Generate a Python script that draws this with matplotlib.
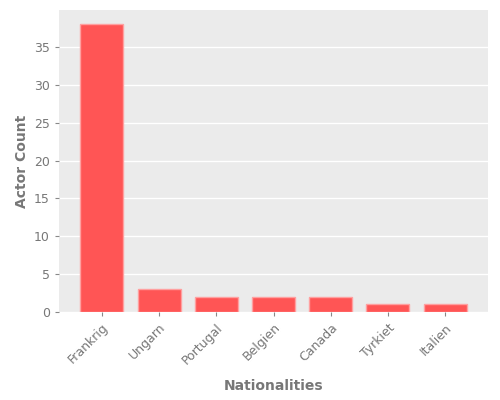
import matplotlib
matplotlib.use("Agg")
import matplotlib.pyplot as plt

countries = ["Frankrig", "Ungarn", "Portugal", "Belgien", "Canada", "Tyrkiet", "Italien"]
counts = [38, 3, 2, 2, 2, 1, 1]

fig = plt.figure(figsize=(5, 4), dpi=100)
ax = fig.add_axes([0.118, 0.22, 0.858, 0.755])
ax.set_facecolor("#EBEBEB")
ax.bar(range(len(countries)), counts, width=0.75, color="#FF5555",
       edgecolor="#FFA0A0", linewidth=1, zorder=3)
ax.set_ylim(0, 39.9)
ax.set_xlim(-0.75, 6.75)
ax.set_xticks(range(len(countries)))
ax.set_xticklabels(countries, rotation=45, ha="right", rotation_mode="anchor")
ax.yaxis.grid(True, color="white", linewidth=1, zorder=0)
ax.set_axisbelow(True)
for s in ax.spines.values():
    s.set_visible(False)
ax.tick_params(colors="#888888", labelcolor="#777777", labelsize=9, length=3)
ax.set_xlabel("Nationalities", color="#777777", fontsize=10, fontweight="bold", labelpad=9)
ax.set_ylabel("Actor Count", color="#777777", fontsize=10, fontweight="bold", labelpad=4)
fig.savefig("out.png", dpi=100)
